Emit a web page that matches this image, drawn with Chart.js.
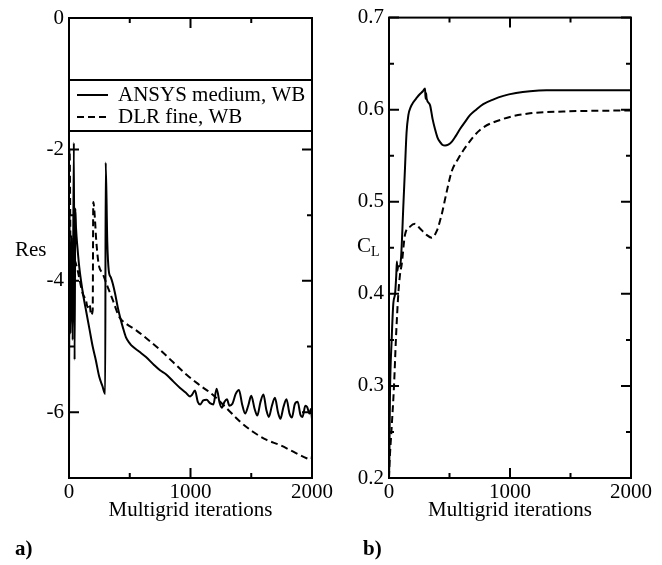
<!DOCTYPE html>
<html>
<head>
<meta charset="utf-8">
<script src="https://cdn.jsdelivr.net/npm/chart.js@4.4.1/dist/chart.umd.min.js"></script>
<style>
  html, body { margin: 0; padding: 0; background: #fff; }
  body { width: 662px; height: 565px; position: relative; overflow: hidden;
         font-family: "Liberation Serif", "Times New Roman", serif; color: #000; }
  canvas { position: absolute; top: 0; }
  #c1 { left: 0; }
  #c2 { left: 335px; }
  .lbl { position: absolute; font-size: 21px; line-height: 21px; white-space: nowrap; }
  .lbl sub { font-size: 14px; vertical-align: -4px; line-height: 0; }
</style>
</head>
<body>
<canvas id="c1" width="345" height="565"></canvas>
<canvas id="c2" width="327" height="565"></canvas>
<div class="lbl" style="left:15px; top:239px;">Res</div>
<div class="lbl" style="left:357px; top:235px;">C<sub>L</sub></div>
<div class="lbl" style="left:15px; top:538px; font-weight:bold;">a)</div>
<div class="lbl" style="left:363px; top:538px; font-weight:bold;">b)</div>
<script>
// ---------- DATA ----------
const seriesNames = ["ANSYS medium, WB", "DLR fine, WB"];
const xTitle = "Multigrid iterations";
const xTicks = [0, 1000, 2000];
const xMinor = [500, 1500];
const resTicks = [0, -2, -4, -6];
const resMinor = [-1, -3, -5];
const clTicks = [0.2, 0.3, 0.4, 0.5, 0.6, 0.7];
const clMinor = [0.25, 0.35, 0.45, 0.55, 0.65];

// Residual history, ANSYS medium (iteration, log residual)
const resAnsys = [[0,-6.4],[5,-3.0],[12,-4.8],[20,-3.4],[30,-4.9],[40,-1.9],[46,-5.2],[52,-2.9],[58,-3.2],
  [70,-3.5],[85,-3.8],[99,-4.0],[120,-4.25],[140,-4.45],[170,-4.75],[195,-5.0],[220,-5.2],[249,-5.46],
  [275,-5.6],[298,-5.72],[302,-2.2],[315,-3.4],[327,-3.84],[345,-3.95],[360,-4.04],[380,-4.2],[401,-4.4],
  [420,-4.55],[442,-4.7],[469,-4.86],[500,-4.95],[524,-5.0],[580,-5.08],[634,-5.16],[700,-5.28],[749,-5.36],
  [798,-5.42],[858,-5.53],[914,-5.63],[960,-5.7],[996,-5.76],[1010,-5.74],[1037,-5.67],[1060,-5.84],
  [1080,-5.88],[1105,-5.82],[1133,-5.81],[1160,-5.86],[1188,-5.88],[1215,-5.64],[1240,-5.86],[1258,-5.93],
  [1280,-5.84],[1300,-5.8],[1320,-5.9],[1345,-5.87],[1372,-5.72],[1399,-5.66],[1425,-5.88],[1450,-6.02],
  [1475,-5.9],[1500,-5.75],[1528,-5.95],[1550,-6.05],[1575,-5.85],[1600,-5.73],[1625,-5.97],[1645,-6.07],
  [1670,-5.9],[1695,-5.78],[1720,-6.0],[1740,-6.1],[1765,-5.92],[1790,-5.8],[1815,-6.02],[1835,-6.08],
  [1858,-5.88],[1882,-5.84],[1905,-6.04],[1922,-6.07],[1945,-5.9],[1960,-5.92],[1980,-6.02],[1990,-5.95],[2000,-6.1]];

// Residual history, DLR fine
const resDlr = [[0,-2.1],[5,-2.0],[10,-3.0],[15,-4.5],[20,-3.3],[30,-3.6],[50,-3.7],[71,-3.84],[112,-4.19],
  [140,-4.3],[153,-4.4],[170,-4.35],[181,-4.52],[195,-4.45],[200,-2.8],[215,-3.1],[222,-3.33],[236,-3.63],
  [249,-3.79],[277,-3.89],[318,-4.09],[360,-4.29],[414,-4.55],[469,-4.65],[551,-4.75],[634,-4.87],[749,-5.05],
  [858,-5.24],[968,-5.43],[1078,-5.59],[1188,-5.74],[1298,-5.94],[1407,-6.14],[1517,-6.3],[1627,-6.42],
  [1737,-6.5],[1846,-6.6],[1956,-6.7],[1995,-6.72],[2000,-6.66]];

// Lift coefficient, ANSYS medium
const clAnsys = [[0,0.2],[3,0.22],[8,0.29],[22,0.35],[36,0.39],[50,0.40],[60,0.42],[65,0.435],[70,0.425],
  [75,0.43],[90,0.43],[100,0.44],[120,0.5],[132,0.536],[145,0.575],[160,0.594],[180,0.603],[201,0.608],
  [230,0.613],[256,0.617],[280,0.62],[298,0.623],[302,0.612],[306,0.618],[311,0.612],[339,0.605],[360,0.59],
  [380,0.579],[400,0.57],[421,0.565],[440,0.562],[463,0.561],[490,0.562],[518,0.565],[550,0.571],[587,0.579],
  [630,0.587],[669,0.594],[720,0.6],[779,0.606],[860,0.611],[945,0.615],[1050,0.618],[1165,0.62],[1300,0.621],
  [1440,0.621],[1700,0.621],[2000,0.621]];

// Lift coefficient, DLR fine
const clDlr = [[0,0.2],[3,0.212],[22,0.255],[41,0.299],[58,0.353],[77,0.4],[91,0.421],[105,0.432],[132,0.464],
  [174,0.473],[215,0.476],[256,0.471],[311,0.464],[353,0.461],[394,0.468],[435,0.486],[477,0.511],[518,0.533],
  [573,0.547],[642,0.561],[752,0.578],[945,0.59],[1165,0.596],[1440,0.598],[1909,0.599],[1990,0.599],[2000,0.601]];

// ---------- CHART HELPERS ----------
const FONT = '"Liberation Serif", "Times New Roman", serif';
const toXY = arr => arr.map(p => ({x: p[0], y: p[1]}));

const framePlugin = {
  id: 'frame',
  afterDatasetsDraw(chart, args, opts) {
    const {ctx, chartArea: a, scales: {x, y}} = chart;
    ctx.save();
    ctx.strokeStyle = '#000';
    ctx.lineWidth = 2;
    ctx.lineCap = 'butt';
    ctx.beginPath();
    const tick = (vals, len) => {
      vals.forEach(v => {
        const px = x.getPixelForValue(v);
        ctx.moveTo(px, a.bottom); ctx.lineTo(px, a.bottom - len);
        ctx.moveTo(px, a.top); ctx.lineTo(px, a.top + len);
      });
    };
    const ytick = (vals, len) => {
      vals.forEach(v => {
        const py = y.getPixelForValue(v);
        ctx.moveTo(a.left, py); ctx.lineTo(a.left + len, py);
        ctx.moveTo(a.right, py); ctx.lineTo(a.right - len, py);
      });
    };
    tick(opts.xMajor, 10); tick(opts.xMinor, 5);
    ytick(opts.yMajor, 10); ytick(opts.yMinor, 5);
    ctx.stroke();
    ctx.strokeRect(a.left, a.top, a.right - a.left, a.bottom - a.top);

    if (opts.legend) {
      const top = a.top + 62, h = 51;
      ctx.fillStyle = '#fff';
      ctx.fillRect(a.left, top, a.right - a.left, h);
      ctx.strokeRect(a.left, top, a.right - a.left, h);
      ctx.font = '21px ' + FONT;
      ctx.fillStyle = '#000';
      ctx.textBaseline = 'alphabetic';
      chart.data.datasets.forEach((ds, i) => {
        const ly = top + 15 + i * 22;
        ctx.save();
        ctx.setLineDash(ds.borderDash || []);
        ctx.lineWidth = 2;
        ctx.beginPath();
        ctx.moveTo(a.left + 8, ly); ctx.lineTo(a.left + 39, ly);
        ctx.stroke();
        ctx.restore();
        ctx.fillText(ds.label, a.left + 49, ly + 6);
      });
    }
    ctx.restore();
  }
};

function makeChart(id, cfg) {
  return new Chart(document.getElementById(id), {
    type: 'scatter',
    data: {
      datasets: [
        {label: seriesNames[0], data: toXY(cfg.solid), showLine: true, borderColor: '#000', borderWidth: 2,
         pointRadius: 0, cubicInterpolationMode: 'monotone', fill: false},
        {label: seriesNames[1], data: toXY(cfg.dashed), showLine: true, borderColor: '#000', borderWidth: 2,
         borderDash: [7, 4], pointRadius: 0, cubicInterpolationMode: 'monotone', fill: false}
      ]
    },
    options: {
      responsive: false,
      animation: false,
      devicePixelRatio: 1,
      layout: {padding: {left: 0, right: cfg.padRight, top: cfg.padTop, bottom: 37}},
      plugins: {
        legend: {display: false},
        tooltip: {enabled: false},
        frame: {xMajor: xTicks, xMinor: xMinor, yMajor: cfg.yTicks, yMinor: cfg.yMinor, legend: cfg.legend}
      },
      scales: {
        x: {
          type: 'linear', min: 0, max: 2000,
          afterBuildTicks: s => { s.ticks = xTicks.map(v => ({value: v})); },
          afterFit: s => { s.height = 50; },
          grid: {display: false, drawTicks: false},
          border: {display: false},
          ticks: {color: '#000', font: {family: FONT, size: 21}, padding: 2, maxRotation: 0,
                  autoSkip: false, callback: v => String(v)},
          title: {display: true, text: xTitle, color: '#000', font: {family: FONT, size: 21, lineHeight: 1.2},
                  padding: {top: 0, bottom: 5}}
        },
        y: {
          type: 'linear', min: cfg.yMin, max: cfg.yMax,
          afterBuildTicks: s => { s.ticks = cfg.yTicks.map(v => ({value: v})); },
          afterFit: s => { s.width = cfg.yWidth; },
          grid: {display: false, drawTicks: false},
          border: {display: false},
          ticks: {color: '#000', font: {family: FONT, size: 21}, padding: 5, autoSkip: false,
                  callback: cfg.fmt}
        }
      }
    },
    plugins: [framePlugin]
  });
}

makeChart('c1', {solid: resAnsys, dashed: resDlr, yMin: -7, yMax: 0, yTicks: resTicks, yMinor: resMinor,
  yWidth: 69, padRight: 33, padTop: 18, legend: true, fmt: v => String(v)});
makeChart('c2', {solid: clAnsys, dashed: clDlr, yMin: 0.2, yMax: 0.7, yTicks: clTicks, yMinor: clMinor,
  yWidth: 54, padRight: 31, padTop: 15, legend: false, fmt: v => v.toFixed(1)});
</script>
</body>
</html>
